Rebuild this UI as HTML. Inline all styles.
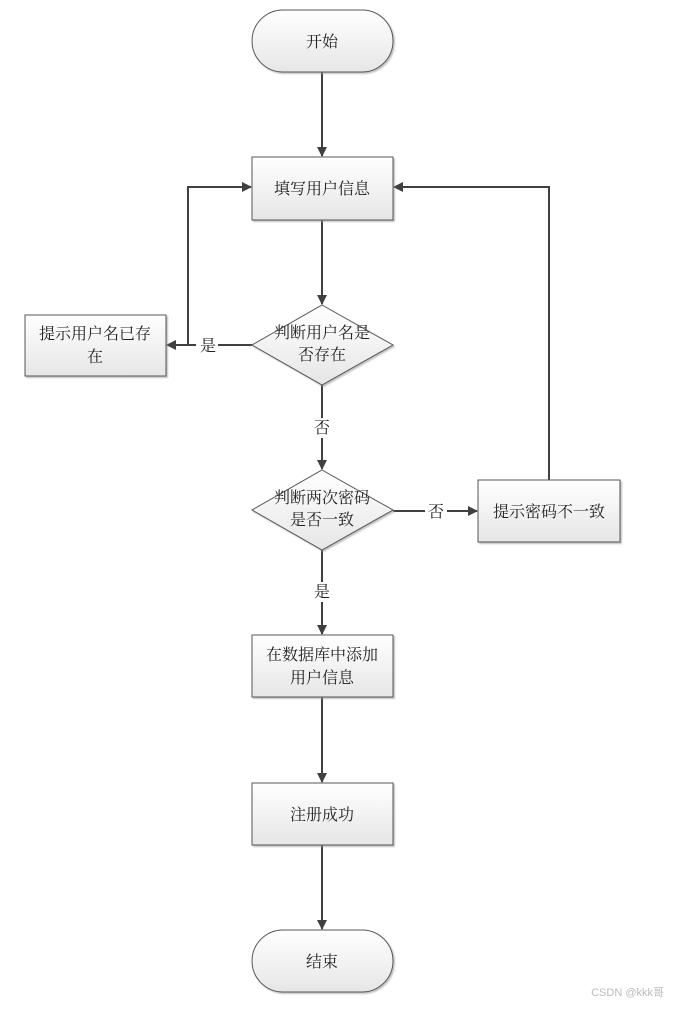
<!DOCTYPE html>
<html><head><meta charset="utf-8"><style>
body{margin:0;background:#fff}
svg text{font-family:"Liberation Serif","Noto Serif CJK SC","Noto Sans CJK SC",serif;font-size:16px;fill:#222}
</style></head><body>
<svg width="675" height="1005" viewBox="0 0 675 1005" xmlns="http://www.w3.org/2000/svg">
<defs>
<linearGradient id="g" x1="0" y1="0" x2="0" y2="1"><stop offset="0" stop-color="#ffffff"/><stop offset="1" stop-color="#e6e6e6"/></linearGradient>
<marker id="a" markerWidth="10" markerHeight="10" refX="9" refY="5" orient="auto" markerUnits="userSpaceOnUse"><path d="M0,0 L10,5 L0,10 Z" fill="#404040"/></marker>
<filter id="s" x="-10%" y="-10%" width="130%" height="130%"><feDropShadow dx="1.5" dy="1.5" stdDeviation="0.8" flood-color="#999" flood-opacity="0.6"/></filter>
</defs>
<g stroke="#404040" stroke-width="2" fill="none">
<line x1="322" y1="72" x2="322" y2="156" marker-end="url(#a)"/>
<line x1="322" y1="220" x2="322" y2="304" marker-end="url(#a)"/>
<line x1="322" y1="385" x2="322" y2="469" marker-end="url(#a)"/>
<line x1="322" y1="550" x2="322" y2="634" marker-end="url(#a)"/>
<line x1="322" y1="697" x2="322" y2="782" marker-end="url(#a)"/>
<line x1="322" y1="845" x2="322" y2="929" marker-end="url(#a)"/>
<line x1="252" y1="345" x2="167" y2="345" marker-end="url(#a)"/>
<polyline points="188,345 188,187 251,187" marker-end="url(#a)"/>
<line x1="393" y1="511" x2="477" y2="511" marker-end="url(#a)"/>
<polyline points="549,480 549,187 394,187" marker-end="url(#a)"/>
</g>
<g stroke="#555" stroke-width="1" fill="url(#g)" filter="url(#s)">
<rect x="252" y="10" width="141" height="62" rx="31"/>
<rect x="252" y="157" width="141" height="63"/>
<polygon points="322,305 393,345 322,385 252,345"/>
<rect x="25" y="315" width="141" height="61"/>
<polygon points="322,470 393,510 322,550 252,510"/>
<rect x="478" y="480" width="142" height="62"/>
<rect x="252" y="635" width="141" height="62"/>
<rect x="252" y="783" width="141" height="62"/>
<rect x="252" y="930" width="141" height="62" rx="31"/>
</g>
<g text-anchor="middle">
<text x="322" y="47">开始</text>
<text x="322" y="194">填写用户信息</text>
<text x="322" y="338">判断用户名是</text>
<text x="322" y="360">否存在</text>
<text x="95" y="339">提示用户名已存</text>
<text x="95" y="362">在</text>
<text x="322" y="503">判断两次密码</text>
<text x="322" y="525">是否一致</text>
<text x="549" y="517">提示密码不一致</text>
<text x="322" y="660">在数据库中添加</text>
<text x="322" y="683">用户信息</text>
<text x="322" y="820">注册成功</text>
<text x="322" y="967">结束</text>
</g>
<rect x="196" y="336" width="22" height="18" fill="#fff"/>
<text x="208" y="351" text-anchor="middle">是</text>
<rect x="312" y="418" width="20" height="20" fill="#fff"/>
<text x="322" y="433" text-anchor="middle">否</text>
<rect x="425" y="502" width="22" height="18" fill="#fff"/>
<text x="436" y="517" text-anchor="middle">否</text>
<rect x="312" y="582" width="20" height="20" fill="#fff"/>
<text x="322" y="597" text-anchor="middle">是</text>
<text x="664" y="996" text-anchor="end" style="font-family:'Liberation Sans','Noto Sans CJK SC',sans-serif;font-size:11px;fill:#bbb">CSDN @kkk哥</text>
</svg>
</body></html>
